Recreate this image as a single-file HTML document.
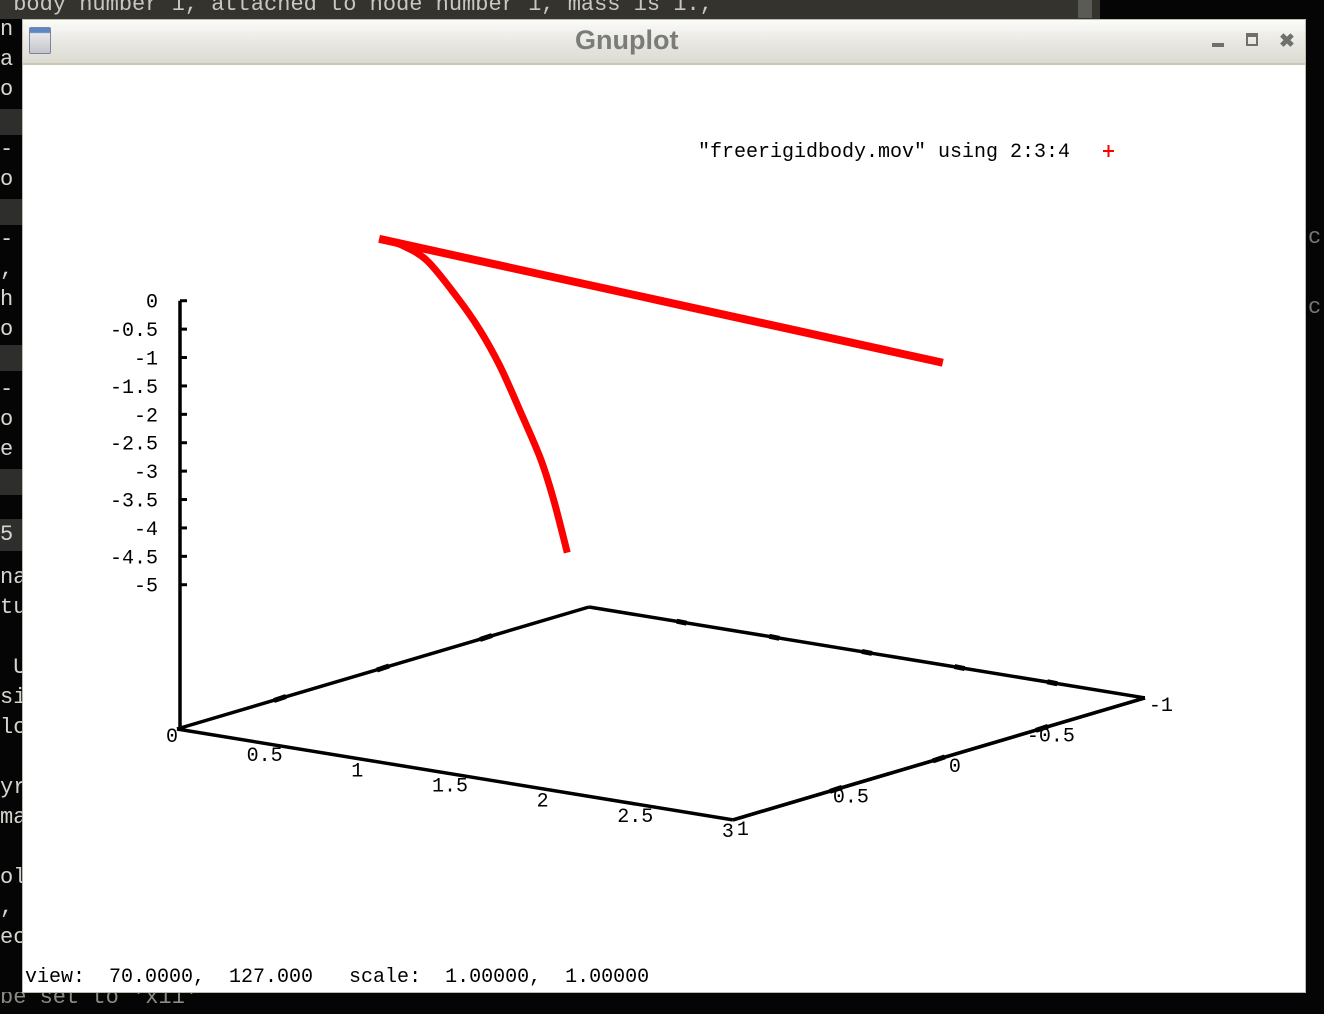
<!DOCTYPE html>
<html><head><meta charset="utf-8">
<style>
html,body{margin:0;padding:0;width:1324px;height:1014px;overflow:hidden;background:#050505;font-family:"Liberation Mono",monospace;}
#topbar{position:absolute;left:0;top:0;width:1100px;height:19px;background:#34332e;color:#c8c8c0;font-size:22px;line-height:10px;white-space:pre;overflow:hidden;}
#scrollblk{position:absolute;left:1078px;top:0;width:14px;height:18px;background:#5b5b55;}
#leftterm{position:absolute;left:0;top:19px;width:22px;height:980px;overflow:hidden;color:#d3d7cf;font-size:22px;}
.tl{position:absolute;left:0;height:30px;line-height:30px;white-space:pre;}
.band{position:absolute;left:0;width:22px;height:26px;background:#2e2e2c;}
#botterm{position:absolute;left:0;top:992px;width:1324px;height:22px;color:#8a8a86;font-size:22px;line-height:12px;white-space:pre;overflow:hidden;}
#win{position:absolute;left:22px;top:19px;width:1284px;height:974px;background:#fff;border:1px solid #bdbbb0;box-sizing:border-box;}
#titlebar{position:absolute;left:0;top:0;width:100%;height:43px;background:linear-gradient(#fbfbf9,#e6e5df 60%,#dcdbd3);border-bottom:2px solid #cac6b2;}
#title{position:absolute;left:552px;top:5px;font:bold 27px "Liberation Sans",sans-serif;color:#7b7b78;}
#icon{position:absolute;left:6px;top:7px;width:22px;height:27px;border-radius:2px;background:linear-gradient(#5d86c4 0,#5d86c4 18%,#e8e8ea 22%,#c4c4ca 100%);border:1px solid #7a86a0;box-sizing:border-box;}
.wbtn{position:absolute;top:12px;color:#6f6f6c;font:bold 18px "Liberation Sans",sans-serif;}
svg{position:absolute;left:0;top:0;}
</style></head><body>
<div id="topbar"> body number 1, attached to node number 1, mass is 1.,</div>
<div id="scrollblk"></div>
<div id="leftterm">
<div class="tl" style="top:-4px">n</div><div class="tl" style="top:26px">a</div><div class="tl" style="top:56px">o</div>
<div class="band" style="top:90px"></div><div class="tl" style="top:116px">-</div><div class="tl" style="top:146px">o</div>
<div class="band" style="top:180px"></div><div class="tl" style="top:206px">-</div><div class="tl" style="top:236px">,</div>
<div class="tl" style="top:266px">h</div><div class="tl" style="top:296px">o</div><div class="band" style="top:326px"></div>
<div class="tl" style="top:356px">-</div><div class="tl" style="top:386px">o</div><div class="tl" style="top:416px">e</div>
<div class="band" style="top:450px"></div><div class="band" style="top:500px;height:32px"></div><div class="tl" style="top:501px">5</div>
<div class="tl" style="top:544px">na</div><div class="tl" style="top:574px">tu</div><div class="tl" style="top:634px"> U</div>
<div class="tl" style="top:664px">si</div><div class="tl" style="top:694px">lc</div><div class="tl" style="top:754px">yr</div>
<div class="tl" style="top:784px">ma</div><div class="tl" style="top:844px">ol</div><div class="tl" style="top:874px">,</div>
<div class="tl" style="top:904px">ec</div>
</div>
<div id="botterm">be set to 'x11'</div>
<div style="position:absolute;left:1308px;top:225px;color:#777;font-size:22px">c</div>
<div style="position:absolute;left:1308px;top:295px;color:#777;font-size:22px">c</div>
<div id="win">
 <div id="titlebar">
  <div id="icon"></div>
  <div id="title">Gnuplot</div>
  <div style="position:absolute;left:1189px;top:23px;width:12px;height:4px;background:#6f6f6c"></div>
  <div class="wbtn" style="left:1223px;top:13px;width:8px;height:7px;border:2px solid #6f6f6c;border-top-width:4px"></div>
  <div class="wbtn" style="left:1256px;top:10px;font-size:19px">✖</div>
 </div>
</div>
<svg id="plot" width="1324" height="1014"></svg>
<div style="position:absolute;left:25px;top:966px;font-size:20px;white-space:pre;color:#000">view:  70.0000,  127.000   scale:  1.00000,  1.00000</div>
<script>
const lineX=[0,3.0];
const lineY=[0,0];
const lineZ=[0,-0.55];
const curveX=[0.02,0.10,0.237,0.40,0.52,0.63,0.74,0.85,0.92,0.99];
const curveY=[0,0,0,0,0,0,0,0,0,0];
const curveZ=[0,-0.04,-0.24,-0.80,-1.30,-1.88,-2.62,-3.40,-4.08,-4.92];
const zTicks=[0,-0.5,-1,-1.5,-2,-2.5,-3,-3.5,-4,-4.5,-5];
const zTickLabels=["0","-0.5","-1","-1.5","-2","-2.5","-3","-3.5","-4","-4.5","-5"];
const xTicks=[0,0.5,1,1.5,2,2.5,3];
const xTickLabels=["0","0.5","1","1.5","2","2.5","3"];
const yTicks=[1,0.5,0,-0.5,-1];
const yTickLabels=["1","0.5","0","-0.5","-1"];
const legendLabel='"freerigidbody.mov" using 2:3:4';

const NS='http://www.w3.org/2000/svg';
const svg=document.getElementById('plot');
const BASEZ=-7.54;
function px(x,y,z){return 177+185.3*x+206*(1-y);}
function py(x,y,z){return 729+30.3*x-61*(1-y)-56.8*(z-BASEZ);}
function mk(tag,attrs){const e=document.createElementNS(NS,tag);for(const k in attrs)e.setAttribute(k,attrs[k]);svg.appendChild(e);return e;}
function seg(x1,y1,x2,y2,w){return mk('line',{x1:x1,y1:y1,x2:x2,y2:y2,stroke:'#000','stroke-width':w||3.5});}
const c=[[0,1],[3,1],[3,-1],[0,-1]];
for(let i=0;i<4;i++){const a=c[i],b=c[(i+1)%4];
 const s=seg(px(a[0],a[1],BASEZ),py(a[0],a[1],BASEZ),px(b[0],b[1],BASEZ),py(b[0],b[1],BASEZ));
 
 }
const zx=180;
const za=seg(zx,py(0,1,0),zx,py(0,1,BASEZ));


zTicks.forEach((t,i)=>{const y=py(0,1,t);
 const tk=seg(zx,y,zx+7,y,3);
 
 
 const tx=mk('text',{x:158,y:y+7,'text-anchor':'end','font-family':'Liberation Mono, monospace','font-size':20});
 tx.textContent=zTickLabels[i];
 
 });
xTicks.forEach((t,i)=>{
 const x=px(t,1,BASEZ),y=py(t,1,BASEZ);
 const tx=mk('text',{x:x-5,y:y+(i==0?13:17),'text-anchor':'middle','font-family':'Liberation Mono, monospace','font-size':20});
 tx.textContent=xTickLabels[i];
 
 
 if(i>0&&i<xTicks.length-1){const bx=px(t,-1,BASEZ),by=py(t,-1,BASEZ);
  const tk=seg(bx-5,by-1,bx+5,by+1,5);
  
  }
});
yTicks.forEach((t,i)=>{
 const x=px(3,t,BASEZ),y=py(3,t,BASEZ);
 const last=i==yTicks.length-1;
 let attrs;
 if(last) attrs={x:x+16,y:y+13,'text-anchor':'middle'};
 else if(i==0) attrs={x:x+4,y:y+15,'text-anchor':'start'};
 else attrs={x:x+(t==0?22:33),y:y+13,'text-anchor':'end'};
 attrs['font-family']='Liberation Mono, monospace';attrs['font-size']=20;
 const tx=mk('text',attrs);
 tx.textContent=yTickLabels[i];
 
 
 if(i>0&&i<yTicks.length-1){
  const tk=seg(x-6,y+2,x+6,y-2,5);
  
  
  const bx=px(0,t,BASEZ),by=py(0,t,BASEZ);
  const tk2=seg(bx-6,by+2,bx+6,by-2,5);
  
  }
});
// redraw front-right edge over labels to hide minus signs like the reference
const fe=seg(px(3,1,BASEZ),py(3,1,BASEZ),px(3,-1,BASEZ),py(3,-1,BASEZ));


function series(X,Y,Z,name,w){
 const P=X.map((x,i)=>[px(x,Y[i],Z[i]),py(x,Y[i],Z[i])]);
 let d='M'+P[0][0].toFixed(1)+' '+P[0][1].toFixed(1);
 for(let i=0;i<P.length-1;i++){
  const p0=P[Math.max(i-1,0)],p1=P[i],p2=P[i+1],p3=P[Math.min(i+2,P.length-1)];
  const c1=[p1[0]+(p2[0]-p0[0])/6,p1[1]+(p2[1]-p0[1])/6];
  const c2=[p2[0]-(p3[0]-p1[0])/6,p2[1]-(p3[1]-p1[1])/6];
  d+=' C'+c1[0].toFixed(1)+' '+c1[1].toFixed(1)+' '+c2[0].toFixed(1)+' '+c2[1].toFixed(1)+' '+p2[0].toFixed(1)+' '+p2[1].toFixed(1);
 }
 const p=mk('path',{d:d,fill:'none',stroke:'#ff0000','stroke-width':w,'stroke-linejoin':'round','stroke-linecap':'square'});
 
 }
series(lineX,lineY,lineZ,'trajectory-line',8);
series(curveX,curveY,curveZ,'trajectory-curve',7);
const lg=mk('text',{x:698,y:157,'font-family':'Liberation Mono, monospace','font-size':20});
lg.textContent=legendLabel;


const m1=mk('line',{x1:1103,y1:151,x2:1114,y2:151,stroke:'#f00','stroke-width':2});


const m2=mk('line',{x1:1108.5,y1:145,x2:1108.5,y2:157,stroke:'#f00','stroke-width':2});


</script>
</body></html>
